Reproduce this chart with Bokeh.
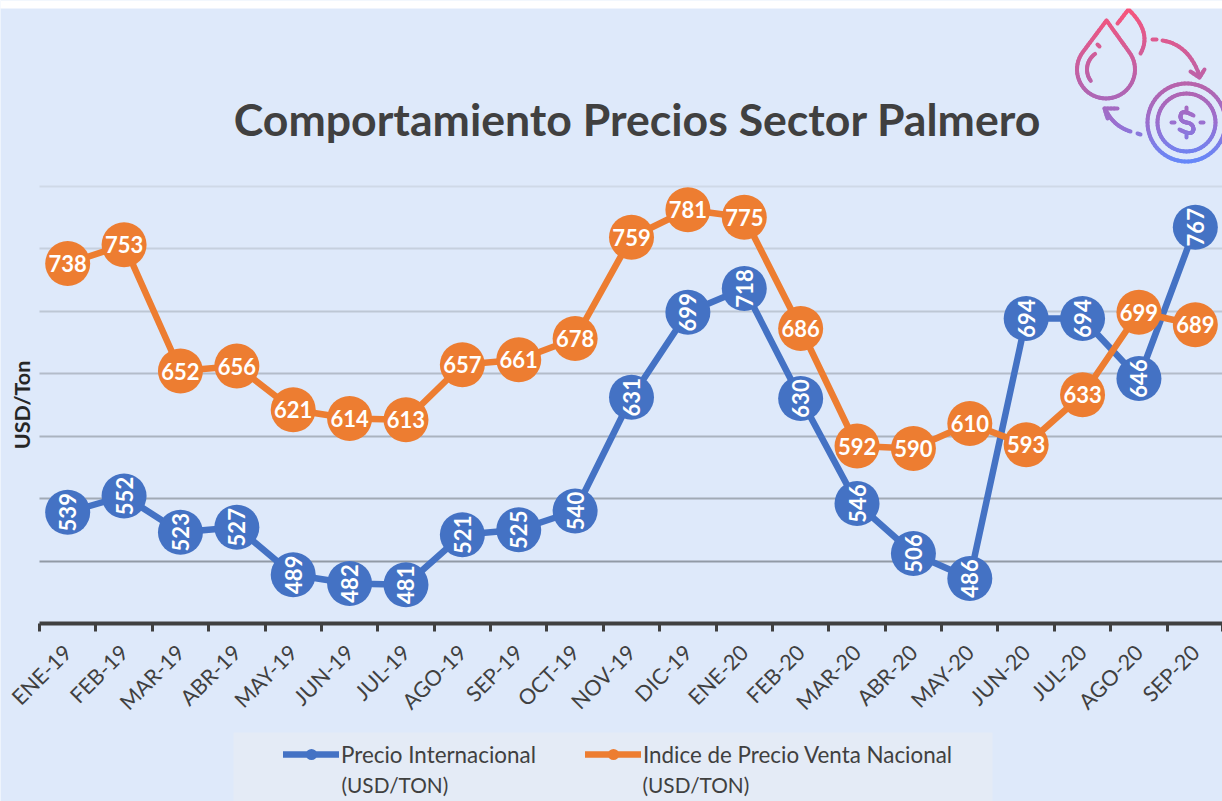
import math
from bokeh.plotting import figure
from bokeh.embed import file_html
from bokeh.resources import INLINE
from bokeh.core.properties import value
from bokeh.models import (ColumnDataSource, FixedTicker, Grid, Range1d, Label, BoxAnnotation,
                          Legend, LegendItem, LinearAxis)

categories = ["ENE-19","FEB-19","MAR-19","ABR-19","MAY-19","JUN-19","JUL-19","AGO-19","SEP-19","OCT-19","NOV-19",
              "DIC-19","ENE-20","FEB-20","MAR-20","ABR-20","MAY-20","JUN-20","JUL-20","AGO-20","SEP-20"]
precio_internacional = [539,552,523,527,489,482,481,521,525,540,631,699,718,630,546,506,486,694,694,646,767]
precio_nacional = [738,753,652,656,621,614,613,657,661,678,759,781,775,686,592,590,610,593,633,699,689]
grid_values = [800,750,700,650,600,550,500]
grid_colors = ["#CFD9E7","#C6D0DE","#BDC7D4","#B3BCC9","#AAB3BF","#A1AAB5","#919AA5"]

TITLE = "Comportamiento Precios Sector Palmero"
BG = "#DEE9FA"; BLUE = "#4472C4"; ORANGE = "#ED7D31"; INK = "#404040"; FONT = "Lato"

x = list(range(len(categories)))
x_start, x_end = -0.5, 20.482
p = figure(width=1222, height=801, output_backend="svg", toolbar_location=None,
           x_range=Range1d(-1.1917, x_end), y_range=Range1d(307.6, 948.4),
           min_border_left=0, min_border_right=0, min_border_top=0, min_border_bottom=0,
           background_fill_color=BG, border_fill_color=BG, outline_line_color=None,
           x_axis_type=None, y_axis_type=None)
p.extra_x_ranges["px"] = Range1d(0, 1222)
p.extra_y_ranges["py"] = Range1d(801, 0)

# axes
xaxis = LinearAxis(ticker=FixedTicker(ticks=x, minor_ticks=[i - 0.5 for i in x] + [20.48]),
                   fixed_location=450, bounds=(x_start, x_end),
                   major_label_overrides={i: c for i, c in enumerate(categories)},
                   major_label_orientation=math.pi / 4,
                   major_label_text_font=FONT, major_label_text_font_size="21.5px",
                   major_label_text_color=INK, major_label_standoff=17,
                   axis_line_color=INK, axis_line_width=4,
                   major_tick_line_color=None, major_tick_in=0, major_tick_out=0,
                   minor_tick_line_color=INK, minor_tick_line_width=3, minor_tick_in=0, minor_tick_out=8)
p.add_layout(xaxis, "below")
yaxis = LinearAxis(ticker=FixedTicker(ticks=[]), bounds=(450, 800), fixed_location=x_start, axis_line_color=None,
                   major_tick_line_color=None, minor_tick_line_color=None,
                   major_label_text_font_size="0px", axis_label="USD/Ton",
                   axis_label_text_font=FONT, axis_label_text_font_style="bold",
                   axis_label_text_font_size="21.5px", axis_label_text_color="#262626",
                   axis_label_standoff=5)
p.add_layout(yaxis, "left")

for v, c in zip(grid_values, grid_colors):
    p.add_layout(Grid(dimension=1, ticker=FixedTicker(ticks=[v]), grid_line_color=c, grid_line_width=2,
                      cross_bounds=(x_start, x_end)))

# legend panel
p.add_layout(BoxAnnotation(left=233, right=992, top=732, bottom=801, x_range_name="px", y_range_name="py",
                           fill_color="#E4EBF6", fill_alpha=1, line_color=None, level="underlay"))

# series
src_b = ColumnDataSource(dict(x=x, y=precio_internacional, t=[str(v) for v in precio_internacional]))
src_o = ColumnDataSource(dict(x=x, y=precio_nacional, t=[str(v) for v in precio_nacional]))
items = []
for src, col, ang, name in ((src_b, BLUE, math.pi / 2, "Precio Internacional"),
                            (src_o, ORANGE, 0, "Indice de Precio Venta Nacional")):
    l = p.line("x", "y", source=src, line_color=col, line_width=6.5, line_cap="round", line_join="round")
    c = p.scatter("x", "y", source=src, size=45, fill_color=col, line_color=None)
    p.text("x", "y", text="t", source=src, text_color="white", text_font=value(FONT),
           text_font_style="bold", text_font_size="22px", text_align="center",
           text_baseline="middle", angle=ang)
    items.append(LegendItem(label=name, renderers=[l, c]))

legend = Legend(items=items, orientation="horizontal", location=(283, 33),
                background_fill_alpha=0, border_line_color=None, padding=0, margin=0, spacing=49,
                glyph_width=56, glyph_height=28, label_standoff=2,
                label_text_font=FONT, label_text_font_size="22.4px", label_text_color=INK)
p.add_layout(legend)
for lx in (341, 642):
    p.add_layout(Label(x=lx, y=784, x_range_name="px", y_range_name="py", text="(USD/TON)", text_align="left",
                       text_baseline="middle", text_font=FONT, text_font_size="20.8px", text_color=INK))

# title
p.add_layout(Label(x=637, y=118, x_range_name="px", y_range_name="py", text=TITLE, text_align="center",
                   text_baseline="middle", text_font=FONT, text_font_style="bold",
                   text_font_size="44.6px", text_color=INK))

# top white strip of the reference
p.add_layout(BoxAnnotation(left=-10, right=1230, top=0, bottom=8, x_range_name="px", y_range_name="py",
                           fill_color="white", fill_alpha=1, line_color=None))

# decorative icon
stops = [(10, (246, 85, 124)), (90, (178, 100, 176)), (122, (154, 112, 208)), (162, (100, 136, 250))]
def grad(y):
    if y <= stops[0][0]: return "#%02x%02x%02x" % stops[0][1]
    for (a, ca), (b, cb) in zip(stops, stops[1:]):
        if y <= b:
            f = (y - a) / (b - a)
            return "#%02x%02x%02x" % tuple(round(u + (w - u) * f) for u, w in zip(ca, cb))
    return "#%02x%02x%02x" % stops[-1][1]
def arc(cx, cy, r, a0, a1, n=40):
    return [(cx + r * math.cos(math.radians(a0 + (a1 - a0) * i / n)),
             cy + r * math.sin(math.radians(a0 + (a1 - a0) * i / n))) for i in range(n + 1)]
def bez(p0, c, p1, n=14):
    return [((1 - t) ** 2 * p0[0] + 2 * (1 - t) * t * c[0] + t * t * p1[0],
             (1 - t) ** 2 * p0[1] + 2 * (1 - t) * t * c[1] + t * t * p1[1])
            for t in (i / n for i in range(n + 1))]
def fine(pts, step=3):
    out = [pts[0]]
    for a, b in zip(pts, pts[1:]):
        k = max(1, int(math.dist(a, b) / step))
        out += [(a[0] + (b[0] - a[0]) * j / k, a[1] + (b[1] - a[1]) * j / k) for j in range(1, k + 1)]
    return out
paths = [
    [(1106, 20)] + arc(1105.5, 69, 29, -36.3, 216.3) + [(1106, 20)],
    [(1117, 23), (1128, 9)] + bez((1128, 9), (1152, 32), (1140, 53)),
    arc(1105.5, 69, 19, 235, 143, 14),
    [(1097, 44), (1099, 46)],
    [(1152, 39), (1156, 39)],
    bez((1162, 40), (1188, 44), (1199, 75)),
    [(1190, 71), (1199, 77), (1204, 69)],
    arc(1186, 122, 39, 0, 360, 70),
    arc(1186, 122, 29, 0, 360, 60),
    [(1171, 122), (1174, 122)], [(1200, 122), (1203, 122)],
    bez((1193, 115), (1180, 108), (1180, 116)) + bez((1180, 116), (1180, 121), (1186, 122)) +
    bez((1186, 122), (1193, 123), (1193, 129)) + bez((1193, 129), (1192, 136), (1179, 129)),
    [(1186, 107), (1186, 111)], [(1186, 133), (1186, 137)],
    bez((1130, 131), (1114, 126), (1106, 111)),
    [(1117, 108), (1104, 108), (1107, 118)],
    [(1137, 133), (1140, 134)],
]
xs, ys, cols = [], [], []
for path in paths:
    pts = fine(path)
    for a, b in zip(pts, pts[1:]):
        xs.append([a[0], b[0]]); ys.append([a[1], b[1]]); cols.append(grad((a[1] + b[1]) / 2))
p.multi_line(xs, ys, line_color=cols, line_width=4, line_cap="round", x_range_name="px", y_range_name="py")

open("out.html", "w").write(file_html(p, INLINE))
